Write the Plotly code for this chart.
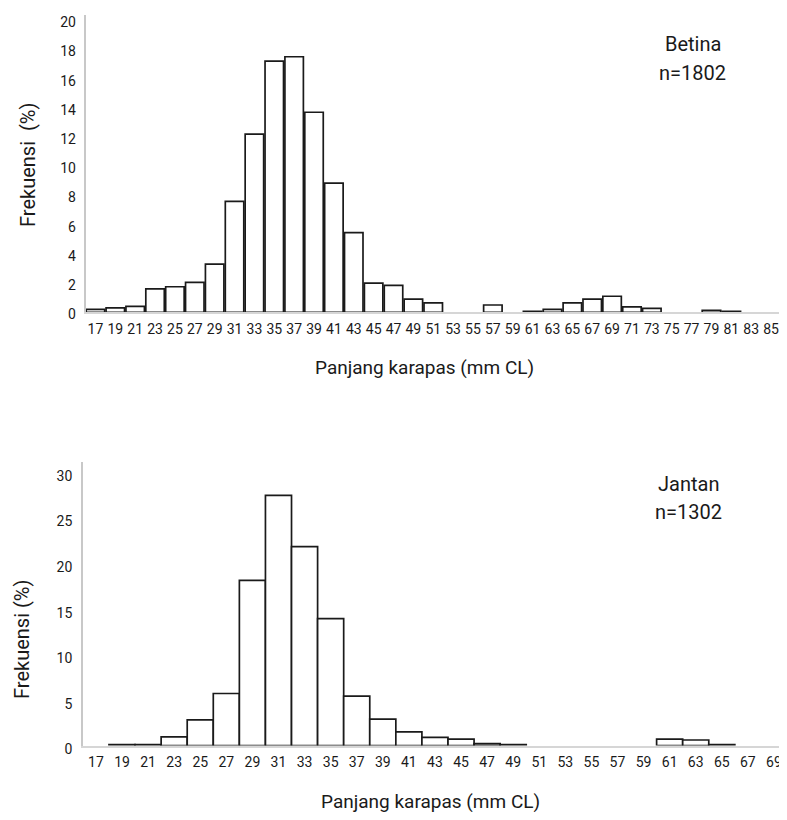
import plotly.graph_objects as go

# The page body adds an 8px margin on every side, so the figure is made smaller
# (to avoid a scrollbar) and reference pixel positions are shifted by 8px.
OFF = 8
W, H = 787 - OFF, 820 - 2 * OFF

# ---- data ----
cats_f = [str(v) for v in range(17, 86, 2)]
vals_f = [0.2, 0.3, 0.4, 1.6, 1.75, 2.05, 3.3, 7.6, 12.2, 17.2, 17.5, 13.7, 8.85, 5.45,
          2.0, 1.85, 0.9, 0.65, 0, 0, 0.5, 0, 0.07, 0.2, 0.65, 0.9, 1.1, 0.37, 0.27,
          0, 0, 0.14, 0.07, 0, 0]
cats_m = [str(v) for v in range(17, 70, 2)]
vals_m = [0, 0.1, 0.1, 0.95, 2.8, 5.7, 18.1, 27.4, 21.8, 13.9, 5.4, 2.9, 1.5, 0.9,
          0.7, 0.2, 0.1, 0, 0, 0, 0, 0, 0.7, 0.6, 0.1, 0, 0]
ticks_f = list(range(0, 21, 2))
ticks_m = list(range(0, 31, 5))

FONT = "Roboto, 'Open Sans', sans-serif"
TXT = "#1a1a1a"

def px_x(x):
    return min(1.0, max(0.0, (x - OFF) / W))

def px_y(y):
    return min(1.0, max(0.0, 1 - (y - OFF) / H))

def nz(v):
    return [None if a == 0 else a for a in v]

fig = go.Figure()
bar_style = dict(marker=dict(color="white", line=dict(color="#1a1a1a", width=1.7)),
                 showlegend=False, hoverinfo="x+y")
fig.add_trace(go.Bar(x=cats_f, y=nz(vals_f), xaxis="x", yaxis="y", **bar_style))
fig.add_trace(go.Bar(x=cats_m, y=nz(vals_m), xaxis="x2", yaxis="y2", width=1.0, **bar_style))

xcommon = dict(type="category", showline=True, linecolor="#d6d6d6", linewidth=2,
               showgrid=False, zeroline=False, ticks="", automargin=False,
               ticklabelstandoff=3,
               tickfont=dict(family=FONT, size=14, color=TXT), fixedrange=True)
ycommon = dict(showline=True, linecolor="#c8c8c8", linewidth=1.5, showgrid=False,
               zeroline=False, ticks="", automargin=False,
               tickfont=dict(family=FONT, size=14, color=TXT), fixedrange=True)

fig.update_layout(
    width=W, height=H, autosize=False,
    margin=dict(l=0, r=0, t=0, b=0, pad=0),
    paper_bgcolor="white", plot_bgcolor="white",
    bargap=0.07,
    xaxis=dict(domain=[px_x(85.5), px_x(781)], range=[-0.5, 34.5], anchor="y", **xcommon),
    yaxis=dict(domain=[px_y(312.3), px_y(15)], range=[0, 20.36], anchor="x",
               tickvals=ticks_f, ticklabelstandoff=5, ticklabelshift=2, **ycommon),
    xaxis2=dict(domain=[px_x(82.9), 1.0], range=[-0.5, 26.5], anchor="y2", **xcommon),
    yaxis2=dict(domain=[px_y(745.5), px_y(461.7)], range=[0, 31.1], anchor="x2",
                tickvals=ticks_m, ticklabelstandoff=6, ticklabelshift=4, **ycommon),
)

ann = []
def add_text(text, x, y, size, angle=0):
    ann.append(dict(text=text, x=px_x(x), y=px_y(y), xref="paper", yref="paper",
                    xanchor="center", yanchor="middle", showarrow=False, textangle=angle,
                    font=dict(family=FONT, size=size, color=TXT)))

add_text("Frekuensi\u00a0\u00a0(%)", 28, 165, 20, -90)
add_text("Frekuensi (%)", 22, 640, 20, -90)
add_text("Panjang karapas (mm CL)", 425, 368, 19)
add_text("Panjang karapas (mm CL)", 430, 801, 19)
add_text("Betina", 693, 44, 20)
add_text("n=1802", 692, 73, 20)
add_text("Jantan", 688, 484, 20)
add_text("n=1302", 688, 512, 20)
fig.update_layout(annotations=ann)

fig.write_html("out.html")
